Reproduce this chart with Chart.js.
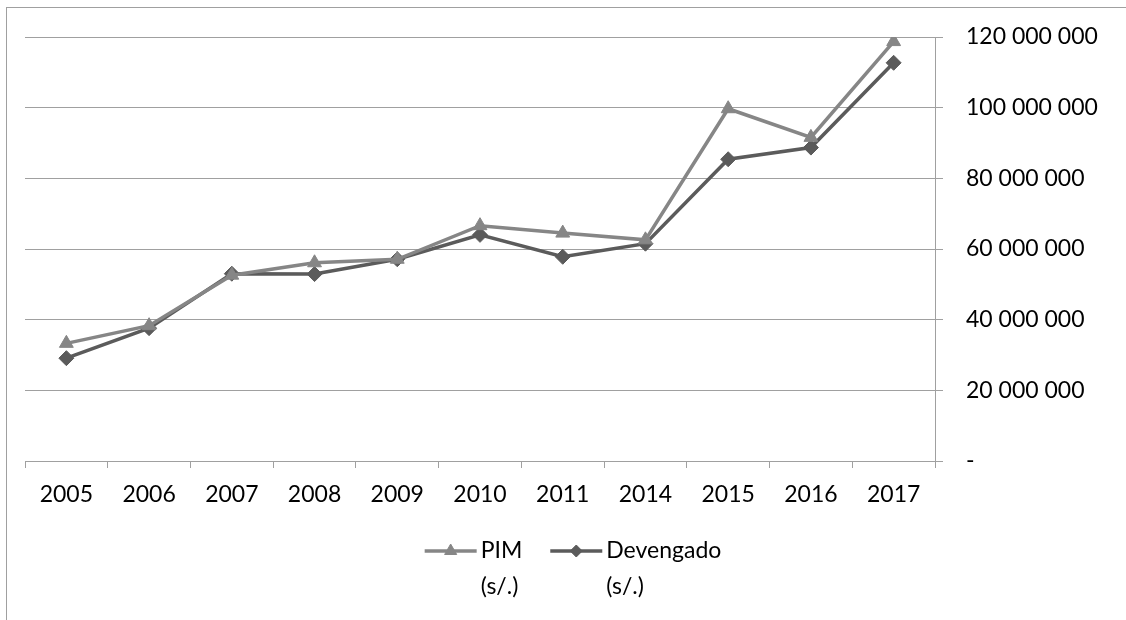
<!DOCTYPE html>
<html><head><meta charset="utf-8">
<script src="https://cdn.jsdelivr.net/npm/chart.js@4/dist/chart.umd.min.js"></script>
<style>
html,body{margin:0;padding:0;background:#fff;overflow:hidden;}
#wrap{position:relative;width:1126px;height:620px;}
#frame{position:absolute;left:6px;top:7px;width:1200px;height:700px;border-left:1px solid #a0a0a0;border-top:1px solid #a0a0a0;}
canvas{position:absolute;left:0;top:0;}
</style></head><body>
<div id="wrap"><div id="frame"></div><canvas id="c" width="1126" height="620"></canvas></div>
<script>
const categories = ['2005','2006','2007','2008','2009','2010','2011','2014','2015','2016','2017'];
const pimValues = [33.3e6, 38.3e6, 52.6e6, 56.1e6, 57.1e6, 66.6e6, 64.5e6, 62.6e6, 99.7e6, 91.6e6, 118.7e6];
const devengadoValues = [29.1e6, 37.6e6, 53.0e6, 52.9e6, 57.1e6, 64.0e6, 57.8e6, 61.5e6, 85.4e6, 88.7e6, 112.7e6];
const pimLegend = ['PIM', '(s/.)'];
const devengadoLegend = ['Devengado', '(s/.)'];
const yMin = 0, yMax = 120e6, yStep = 20e6;

const FONT = 'Lato';
const PIM_COLOR = '#868686';
const DEV_COLOR = '#5b5b5b';

function fmt(v){
  if (v === 0) return '-';
  return String(Math.round(v)).replace(/\B(?=(\d{3})+(?!\d))/g, ' ');
}

const legendPlugin = {
  id: 'xlLegend',
  afterDraw(chart){
    const ctx = chart.ctx;
    const size = 23;
    ctx.save();
    ctx.font = size + 'px ' + FONT;
    ctx.textBaseline = 'middle';
    ctx.textAlign = 'left';
    const lineLen = 52, textGap = 4, itemGap = 28, lineH = 36;
    const items = chart.data.datasets.map(ds => {
      const w = Math.max(...ds.legendLines.map(t => ctx.measureText(t).width));
      return {ds, w: lineLen + textGap + w};
    });
    const total = items.reduce((a, it) => a + it.w, 0) + itemGap * (items.length - 1);
    const centerX = 573, y0 = 551;
    let x = centerX - total / 2;
    items.forEach(it => {
      const ds = it.ds;
      ctx.strokeStyle = ds.borderColor;
      ctx.lineWidth = ds.borderWidth;
      ctx.beginPath();
      ctx.moveTo(x, y0);
      ctx.lineTo(x + lineLen, y0);
      ctx.stroke();
      ctx.fillStyle = ds.pointBackgroundColor;
      ctx.strokeStyle = ds.pointBorderColor;
      ctx.lineWidth = 1;
      Chart.helpers.drawPoint(ctx, {pointStyle: ds.pointStyle, radius: ds.legendPointRadius, borderWidth: 1, rotation: 0}, x + lineLen / 2, y0);
      ctx.fillStyle = '#000';
      ds.legendLines.forEach((t, i) => ctx.fillText(t, x + lineLen + textGap, y0 + i * lineH));
      x += it.w + itemGap;
    });
    ctx.restore();
  }
};

new Chart(document.getElementById('c'), {
  type: 'line',
  data: {
    labels: categories,
    datasets: [
      {
        label: pimLegend.join(' '), legendLines: pimLegend, data: pimValues,
        borderColor: PIM_COLOR, borderWidth: 3.5, pointStyle: 'triangle', pointRadius: 8,
        pointBackgroundColor: PIM_COLOR, pointBorderColor: PIM_COLOR, pointBorderWidth: 1,
        legendPointRadius: 7, tension: 0, fill: false
      },
      {
        label: devengadoLegend.join(' '), legendLines: devengadoLegend, data: devengadoValues,
        borderColor: DEV_COLOR, borderWidth: 3.5, pointStyle: 'rectRot', pointRadius: 7.5,
        pointBackgroundColor: DEV_COLOR, pointBorderColor: DEV_COLOR, pointBorderWidth: 1,
        legendPointRadius: 6, tension: 0, fill: false
      }
    ]
  },
  options: {
    responsive: false, animation: false, devicePixelRatio: 1,
    layout: {padding: {left: 25, top: 37, right: 0, bottom: 0}},
    plugins: {legend: {display: false}, tooltip: {enabled: false}},
    scales: {
      x: {
        offset: true,
        grid: {offset: true, drawOnChartArea: false, drawTicks: true, tickLength: 7, color: '#a0a0a0', lineWidth: 1},
        border: {display: true, color: '#a0a0a0', width: 1},
        ticks: {font: {family: FONT, size: 23}, color: '#000', padding: 13, maxRotation: 0, autoSkip: false},
        afterFit(s){ s.height = 159; }
      },
      y: {
        position: 'right', min: yMin, max: yMax,
        grid: {color: '#a0a0a0', lineWidth: 1, tickLength: 8, drawTicks: true},
        border: {display: true, color: '#a0a0a0', width: 1},
        ticks: {stepSize: yStep, font: {family: FONT, size: 23}, color: '#000', padding: 23, callback: v => fmt(v)},
        afterFit(s){ s.width = 191; }
      }
    }
  },
  plugins: [legendPlugin]
});
</script>
</body></html>
